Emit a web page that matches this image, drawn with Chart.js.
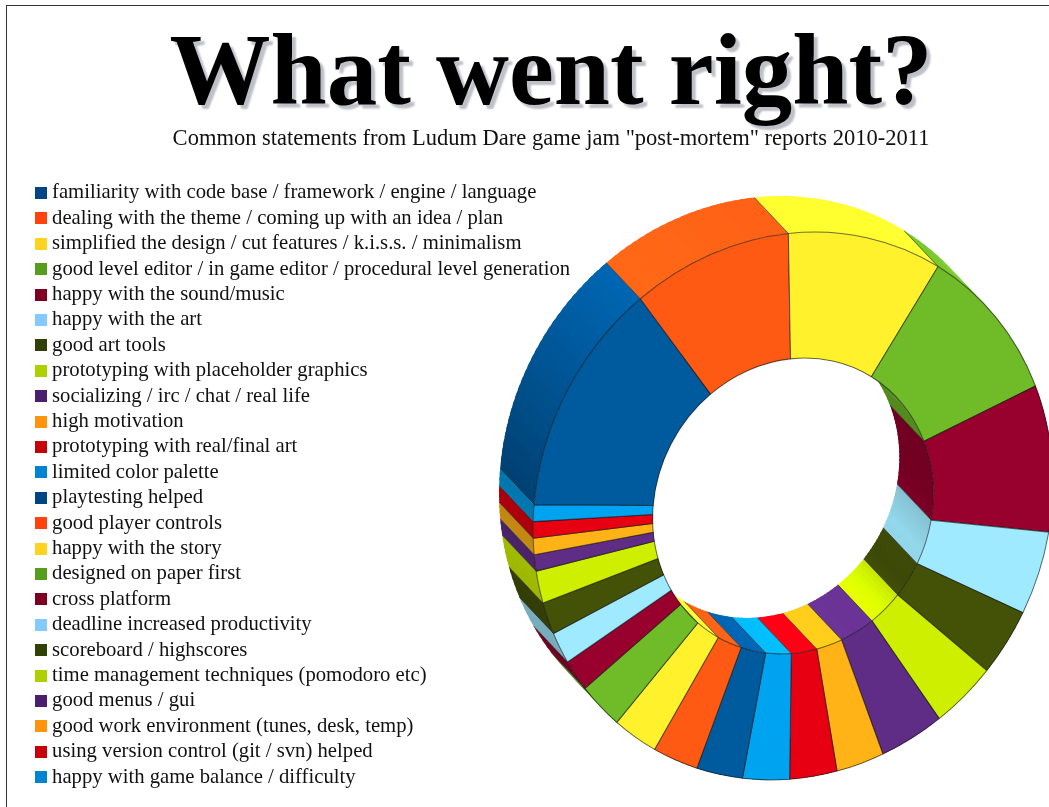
<!DOCTYPE html>
<html>
<head>
<meta charset="utf-8">
<title>What went right?</title>
<script src="https://cdn.jsdelivr.net/npm/chart.js@4"></script>
<style>
  html, body { margin: 0; padding: 0; background: #fff; overflow: hidden; }
  #frame { position: absolute; left: 6px; top: 5px; right: 0; bottom: 0; border-left: 1px solid #333; border-top: 1px solid #333; }
  #ringCanvas { position: absolute; left: 0; top: 0; }
</style>
</head>
<body>
<div id="frame"></div>
<canvas id="ringCanvas" width="1049" height="807"></canvas>
<script>
var titleText = 'What went right?';
var subtitleText = 'Common statements from Ludum Dare game jam "post-mortem" reports 2010-2011';

var statements = [
  'familiarity with code base / framework / engine / language',
  'dealing with the theme / coming up with an idea / plan',
  'simplified the design / cut features / k.i.s.s. / minimalism',
  'good level editor / in game editor / procedural level generation',
  'happy with the sound/music',
  'happy with the art',
  'good art tools',
  'prototyping with placeholder graphics',
  'socializing / irc / chat / real life',
  'high motivation',
  'prototyping with real/final art',
  'limited color palette',
  'playtesting helped',
  'good player controls',
  'happy with the story',
  'designed on paper first',
  'cross platform',
  'deadline increased productivity',
  'scoreboard / highscores',
  'time management techniques (pomodoro etc)',
  'good menus / gui',
  'good work environment (tunes, desk, temp)',
  'using version control (git / svn) helped',
  'happy with game balance / difficulty'
];
var mentions = [14, 10, 10, 10, 9, 5, 4, 4, 4, 3, 3, 3, 3, 3, 3, 3, 2, 2, 2, 2, 1, 1, 1, 1];

var swatchColors = ['#004586', '#ff420e', '#ffd320', '#579d1c', '#7e0021', '#83caff', '#314004', '#aecf00', '#4b1f6f', '#ff950e', '#c5000b', '#0084d1'];
var faceColors = ['#005a9e', '#ff5a14', '#fff22d', '#6fbb28', '#98002e', '#a0eaff', '#445208', '#cef000', '#5f2d85', '#ffb317', '#e60012', '#00a3f0'];

// tilted face of the ring: centre, circle-to-screen matrix and how far the back sits
var faceCentre = { x: 793, y: 506 };
var tilt = { a: 259.7, b: -11.33, c: -11.33, d: 273.7 };
var depth = { x: -34, y: -36 };

// brightness of the side walls by angle, [degrees, factor]
var outerShade = [[0, 1], [140, 0.72], [170, 0.78], [183, 0.72], [215, 1], [235, 1.16], [270, 1.06], [320, 1.1], [360, 1.1]];
var innerShade = [[0, 0.76], [20, 0.92], [35, 0.9], [50, 1.12], [90, 1.18], [120, 1.1], [180, 1], [300, 0.72], [340, 0.74], [360, 0.76]];

function shadeAt(stops, angle) {
  var deg = ((angle * 180 / Math.PI) % 360 + 360) % 360;
  for (var i = 1; i < stops.length; i++) {
    if (deg <= stops[i][0]) {
      var t = (deg - stops[i - 1][0]) / (stops[i][0] - stops[i - 1][0]);
      return stops[i - 1][1] + (stops[i][1] - stops[i - 1][1]) * t;
    }
  }
  return 1;
}

function shadeColor(hex, factor) {
  var parts = [1, 3, 5].map(function (i) {
    return Math.min(255, Math.round(parseInt(hex.substr(i, 2), 16) * factor));
  });
  return 'rgb(' + parts.join(',') + ')';
}

function facePoint(angle, radius) {
  var u = Math.cos(angle) * radius;
  var v = Math.sin(angle) * radius;
  return { x: faceCentre.x + tilt.a * u + tilt.c * v, y: faceCentre.y + tilt.b * u + tilt.d * v };
}

function drawWall(ctx, arc, radius, stops, color) {
  var steps = Math.max(2, Math.ceil((arc.endAngle - arc.startAngle) / 0.03));
  var step = (arc.endAngle - arc.startAngle) / steps;
  for (var i = 0; i < steps; i++) {
    var from = arc.startAngle + step * i;
    // each strip runs a bit under the next one so no seams show
    var to = i < steps - 1 ? from + step * 1.6 : from + step;
    var p1 = facePoint(from, radius);
    var p2 = facePoint(to, radius);
    ctx.fillStyle = shadeColor(color, shadeAt(stops, from + step / 2));
    ctx.beginPath();
    ctx.moveTo(p1.x, p1.y);
    ctx.lineTo(p2.x, p2.y);
    ctx.lineTo(p2.x + depth.x, p2.y + depth.y);
    ctx.lineTo(p1.x + depth.x, p1.y + depth.y);
    ctx.closePath();
    ctx.fill();
  }
  // seam between this wall and the one before it
  var end = facePoint(arc.startAngle, radius);
  ctx.strokeStyle = 'rgba(20,20,20,0.6)';
  ctx.lineWidth = 1;
  ctx.beginPath();
  ctx.moveTo(end.x, end.y);
  ctx.lineTo(end.x + depth.x, end.y + depth.y);
  ctx.stroke();
}

// extrudes the doughnut and tilts the face that Chart.js draws on top
var ringPlugin = {
  id: 'ring3d',
  beforeDraw: function (chart) {
    var title = chart.titleBlock;
    if (title.plainDraw) return;
    title.plainDraw = title.draw;
    title.draw = function () {
      var ctx = chart.ctx;
      ctx.save();
      ctx.shadowColor = 'rgb(190,192,200)';
      ctx.shadowOffsetX = 4;
      ctx.shadowOffsetY = 4;
      ctx.shadowBlur = 2;
      title.plainDraw();
      ctx.restore();
    };
  },
  beforeDatasetsDraw: function (chart) {
    var ctx = chart.ctx;
    var arcs = chart.getDatasetMeta(0).data;
    var hole = arcs[0].innerRadius / arcs[0].outerRadius;
    arcs.forEach(function (arc, i) {
      drawWall(ctx, arc, 1, outerShade, faceColors[i % faceColors.length]);
    });
    arcs.forEach(function (arc, i) {
      drawWall(ctx, arc, hole, innerShade, faceColors[i % faceColors.length]);
    });
    var r = arcs[0].outerRadius;
    ctx.save();
    ctx.translate(faceCentre.x, faceCentre.y);
    ctx.transform(tilt.a / r, tilt.b / r, tilt.c / r, tilt.d / r, 0, 0);
    ctx.translate(-arcs[0].x, -arcs[0].y);
  },
  afterDatasetsDraw: function (chart) {
    chart.ctx.restore();
  }
};

function makeSwatch(color) {
  var c = document.createElement('canvas');
  c.width = 12;
  c.height = 12;
  var g = c.getContext('2d');
  g.fillStyle = color;
  g.fillRect(0, 0, 12, 12);
  return c;
}

new Chart(document.getElementById('ringCanvas').getContext('2d'), {
  type: 'doughnut',
  data: {
    labels: statements,
    datasets: [{
      data: mentions,
      backgroundColor: mentions.map(function (v, i) { return faceColors[i % faceColors.length]; }),
      borderColor: 'rgba(20,20,20,0.6)',
      borderWidth: 0.9,
      clip: false
    }]
  },
  plugins: [ringPlugin],
  options: {
    responsive: false,
    animation: false,
    rotation: 272.6,
    cutout: '54%',
    layout: { padding: { left: 35, right: -18 } },
    plugins: {
      tooltip: { enabled: false },
      title: {
        display: true,
        text: titleText,
        color: '#000',
        font: { family: '"Liberation Serif"', size: 101, weight: 'bold', lineHeight: 0.972 },
        padding: { top: 28.4, bottom: 0 }
      },
      subtitle: {
        display: true,
        text: subtitleText,
        color: '#111',
        font: { family: '"Liberation Serif"', size: 22.5, lineHeight: 1.1 },
        padding: { top: 0, bottom: 26.65 }
      },
      legend: {
        position: 'left',
        align: 'start',
        fullSize: false,
        maxWidth: 600,
        labels: {
          color: '#111',
          font: { family: '"Liberation Serif"', size: 20.7 },
          padding: 4.7,
          usePointStyle: true,
          pointStyleWidth: 2,
          boxHeight: 12,
          generateLabels: function (chart) {
            return statements.map(function (text, i) {
              return {
                text: text,
                fontColor: '#111',
                pointStyle: makeSwatch(swatchColors[i % swatchColors.length]),
                lineWidth: 0,
                hidden: false,
                index: i
              };
            });
          }
        }
      }
    }
  }
});
</script>
</body>
</html>
